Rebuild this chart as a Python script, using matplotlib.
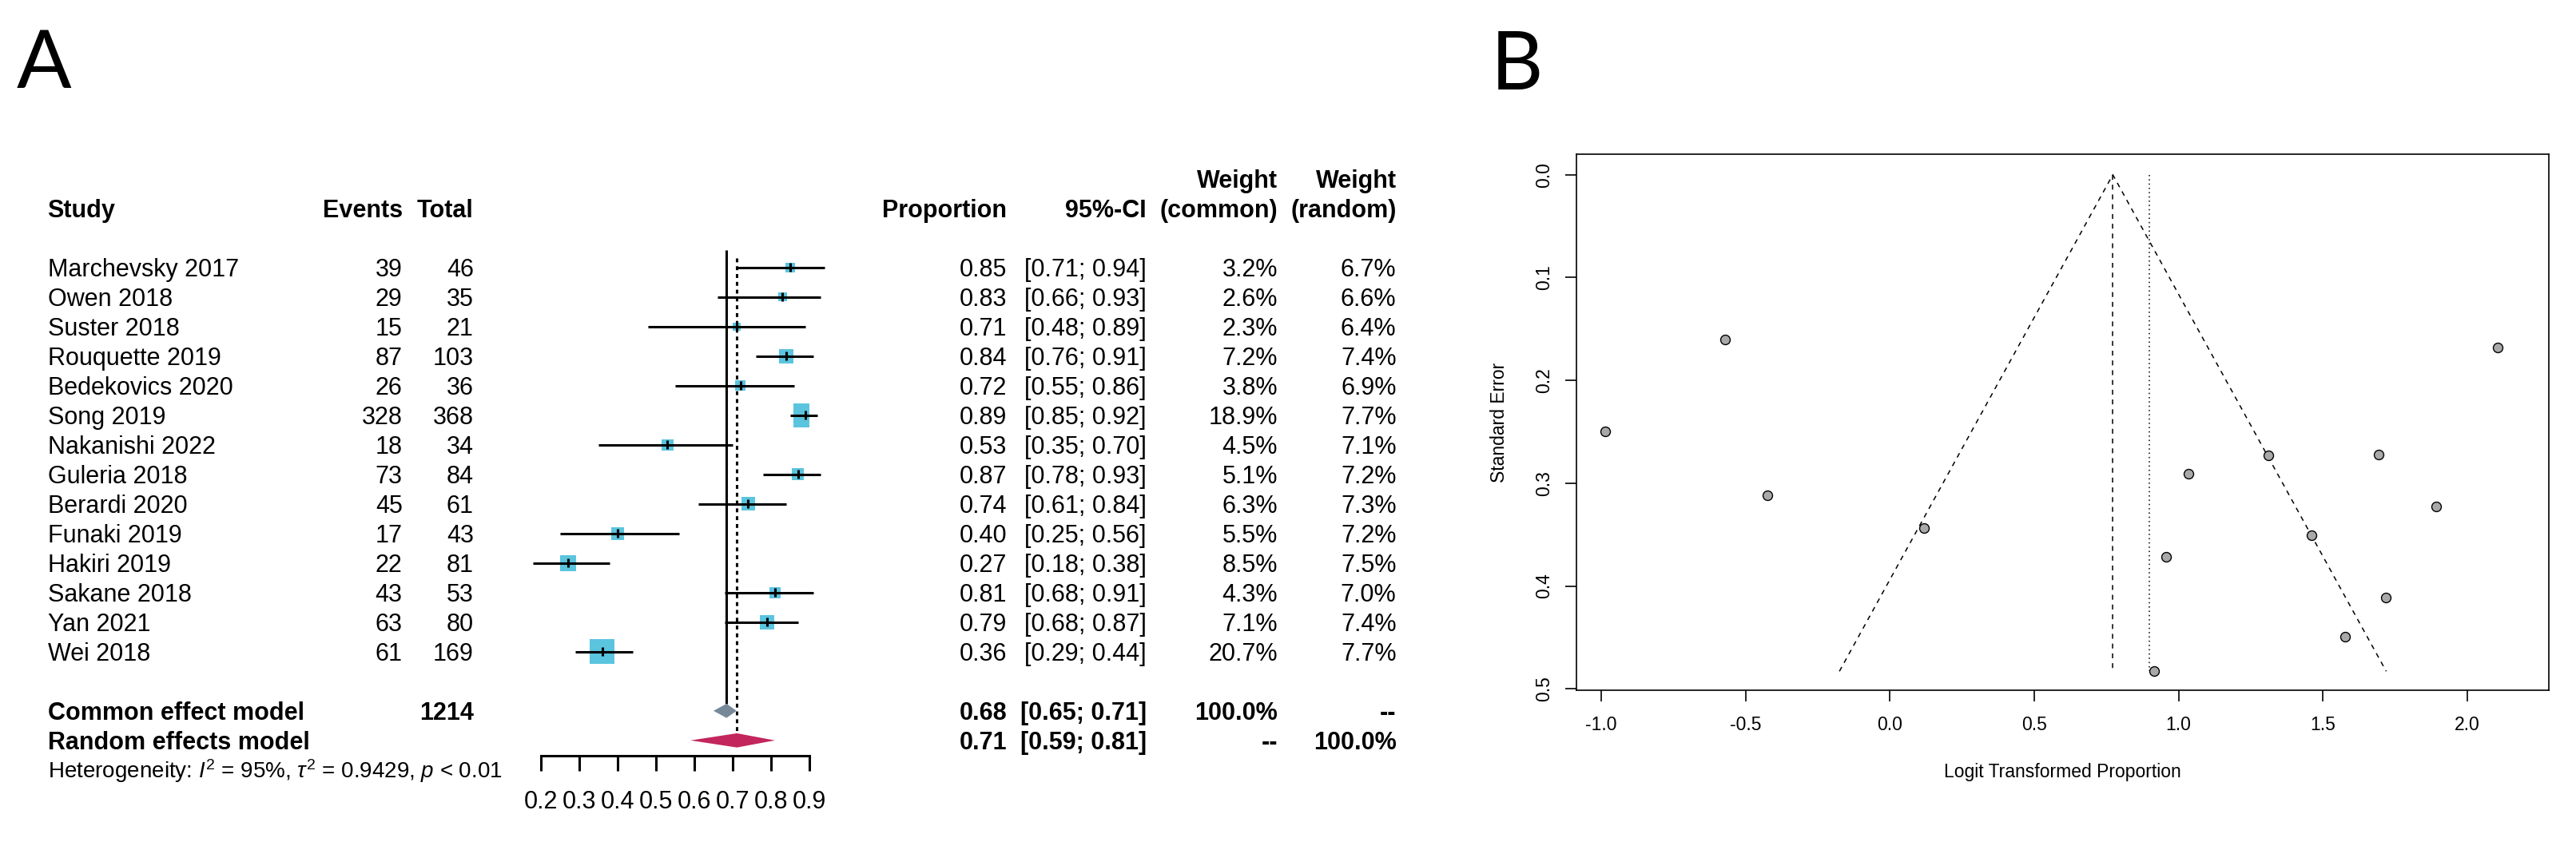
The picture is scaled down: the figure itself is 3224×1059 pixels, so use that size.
import numpy as np
import matplotlib
matplotlib.use("Agg")
import matplotlib.pyplot as plt
from matplotlib.patches import Rectangle, Polygon
from matplotlib.transforms import blended_transform_factory

plt.rcParams['font.family'] = ['Liberation Sans', 'DejaVu Sans']
plt.rcParams['mathtext.fontset'] = 'custom'
plt.rcParams['mathtext.rm'] = 'Liberation Sans'
plt.rcParams['mathtext.it'] = 'Liberation Sans:italic'

### Forest plot data (panel A)
studies = ["Marchevsky 2017", "Owen 2018", "Suster 2018", "Rouquette 2019",
           "Bedekovics 2020", "Song 2019", "Nakanishi 2022", "Guleria 2018",
           "Berardi 2020", "Funaki 2019", "Hakiri 2019", "Sakane 2018",
           "Yan 2021", "Wei 2018"]
events = [39, 29, 15, 87, 26, 328, 18, 73, 45, 17, 22, 43, 63, 61]
totals = [46, 35, 21, 103, 36, 368, 34, 84, 61, 43, 81, 53, 80, 169]
prop = [0.85, 0.83, 0.71, 0.84, 0.72, 0.89, 0.53, 0.87, 0.74, 0.40, 0.27, 0.81, 0.79, 0.36]
ci_lo = [0.71, 0.66, 0.48, 0.76, 0.55, 0.85, 0.35, 0.78, 0.61, 0.25, 0.18, 0.68, 0.68, 0.29]
ci_hi = [0.94, 0.93, 0.89, 0.91, 0.86, 0.92, 0.70, 0.93, 0.84, 0.56, 0.38, 0.91, 0.87, 0.44]
w_common = [3.2, 2.6, 2.3, 7.2, 3.8, 18.9, 4.5, 5.1, 6.3, 5.5, 8.5, 4.3, 7.1, 20.7]
w_random = [6.7, 6.6, 6.4, 7.4, 6.9, 7.7, 7.1, 7.2, 7.3, 7.2, 7.5, 7.0, 7.4, 7.7]

common_est, common_lo, common_hi = 0.684, 0.65, 0.71
random_est, random_lo, random_hi = 0.711, 0.59, 0.81
total_n = 1214
forest_ticks = [0.2, 0.3, 0.4, 0.5, 0.6, 0.7, 0.8, 0.9]

### Funnel plot data (panel B)
logit_prop = [1.718, 1.576, 0.916, 1.693, 0.956, 2.104, 0.118, 1.893, 1.034,
              -0.425, -0.987, 1.459, 1.310, -0.571]
std_err = [0.411, 0.449, 0.483, 0.272, 0.372, 0.168, 0.344, 0.323, 0.291,
           0.312, 0.250, 0.351, 0.273, 0.160]
funnel_center = 0.772
random_logit = 0.898
funnel_se_max = 0.483
funnel_left, funnel_right = -0.175, 1.719

W, H = 3224, 1059
fig = plt.figure(figsize=(W / 100, H / 100), dpi=100)

## Panel A: forest plot
ax = fig.add_axes([677 / W, 1 - 1019.3 / H, 336 / W, 814 / H])
ax.set_xlim(0.2, 0.9)
ax.set_ylim(18.5, -3.5)
for s in ['top', 'left', 'right']:
    ax.spines[s].set_visible(False)
ax.spines['bottom'].set_position(('data', 16.52))
ax.spines['bottom'].set_bounds(0.2, 0.9)
ax.spines['bottom'].set_linewidth(2.2)
ax.set_yticks([])
ax.set_xticks(forest_ticks)
ax.set_xticklabels(["%.1f" % t for t in forest_ticks])
ax.tick_params(axis='x', direction='out', length=13.7, width=2.2, labelsize=22, pad=17)
ax.patch.set_visible(False)

sq_color = '#5bc4de'
rows = np.arange(len(studies))
for i in rows:
    side = 6.8 * np.sqrt(w_common[i])
    wd, ht = side / 480, side / 37
    ax.add_patch(Rectangle((prop[i] - wd / 2, i - ht / 2), wd, ht, color=sq_color, lw=0, zorder=2))
ax.hlines(rows, ci_lo, ci_hi, color='black', lw=2.2, zorder=3, clip_on=False)
ax.vlines(prop, rows - 0.15, rows + 0.15, color='black', lw=2.2, zorder=4)

dh = 0.24
ax.vlines(common_est, -0.58, 15 - dh, color='black', lw=2.2, zorder=1)
ax.vlines(random_est, -0.32, 16 - dh, color='black', lw=2.2, linestyles=(0, (1.6, 1.6)), zorder=1)
ax.add_patch(Polygon([(common_lo, 15), (common_est, 15 - dh), (common_hi, 15), (common_est, 15 + dh)],
                     closed=True, color='#778899', lw=0, zorder=3))
ax.add_patch(Polygon([(random_lo, 16), (random_est, 16 - dh), (random_hi, 16), (random_est, 16 + dh)],
                     closed=True, color='#c2265c', lw=0, zorder=3))

# text columns
tr = blended_transform_factory(fig.transFigure, ax.transData)
fs = 22
off = 0.295  # baseline offset so caps are centred on the row
col_study = 59.6 / W
col_events = 503.7 / W
col_total = 592.8 / W
col_prop = 1260.5 / W
col_ci = 1435 / W
col_wc = 1599 / W
col_wr = 1747.6 / W


def put(x, y, s, ha='left', bold=False, size=fs):
    ax.text(x, y + off, s, transform=tr, ha=ha, va='baseline', fontsize=size,
            fontweight='bold' if bold else 'normal', clip_on=False)


put(col_study, -2, "Study", bold=True)
put(col_events, -2, "Events", ha='right', bold=True)
put(col_total, -2, "Total", ha='right', bold=True)
put(col_prop, -2, "Proportion", ha='right', bold=True)
put(col_ci, -2, "95%-CI", ha='right', bold=True)
put(col_wc, -3, "Weight", ha='right', bold=True)
put(col_wc, -2, "(common)", ha='right', bold=True)
put(col_wr, -3, "Weight", ha='right', bold=True)
put(col_wr, -2, "(random)", ha='right', bold=True)

for i in rows:
    put(col_study, i, studies[i])
    put(col_events, i, str(events[i]), ha='right')
    put(col_total, i, str(totals[i]), ha='right')
    put(col_prop, i, "%.2f" % prop[i], ha='right')
    put(col_ci, i, "[%.2f; %.2f]" % (ci_lo[i], ci_hi[i]), ha='right')
    put(col_wc, i, "%.1f%%" % w_common[i], ha='right')
    put(col_wr, i, "%.1f%%" % w_random[i], ha='right')

put(col_study, 15, "Common effect model", bold=True)
put(col_total, 15, str(total_n), ha='right', bold=True)
put(col_prop, 15, "%.2f" % common_est, ha='right', bold=True)
put(col_ci, 15, "[%.2f; %.2f]" % (common_lo, common_hi), ha='right', bold=True)
put(col_wc, 15, "100.0%", ha='right', bold=True)
put(col_wr, 15, "--", ha='right', bold=True)

put(col_study, 16, "Random effects model", bold=True)
put(col_prop, 16, "%.2f" % random_est, ha='right', bold=True)
put(col_ci, 16, "[%.2f; %.2f]" % (random_lo, random_hi), ha='right', bold=True)
put(col_wc, 16, "--", ha='right', bold=True)
put(col_wr, 16, "100.0%", ha='right', bold=True)

ax.text(col_study, 17 + 0.27, r"Heterogeneity: $I^2$ = 95%, $\tau^2$ = 0.9429, $p$ < 0.01",
        transform=tr, ha='left', va='baseline', fontsize=20, clip_on=False)

## Panel B: funnel plot
bx = fig.add_axes([1973 / W, 1 - 864 / H, 1217 / W, 671 / H])
bx.set_xlim(-1.0858, 2.2823)
bx.set_ylim(0.5014, -0.02)
bx.plot([funnel_left, funnel_center, funnel_right], [funnel_se_max, 0, funnel_se_max],
        color='black', lw=1.1, linestyle=(0, (4, 4)))
bx.plot([funnel_center, funnel_center], [0, funnel_se_max], color='black', lw=1.1, linestyle=(0, (4, 4)))
bx.plot([random_logit, random_logit], [0, funnel_se_max], color='black', lw=1.1, linestyle=(0, (1, 2.5)))
bx.plot(logit_prop, std_err, 'o', ms=8.6, mfc='#a9a9a9', mec='black', mew=1.0, zorder=5)

bx.set_xticks([-1.0, -0.5, 0.0, 0.5, 1.0, 1.5, 2.0])
bx.set_xticklabels(["-1.0", "-0.5", "0.0", "0.5", "1.0", "1.5", "2.0"])
bx.set_yticks([0.0, 0.1, 0.2, 0.3, 0.4, 0.5])
bx.set_yticklabels(["0.0", "0.1", "0.2", "0.3", "0.4", "0.5"], rotation=90, va='center')
bx.tick_params(direction='out', length=9.9, width=1.2, labelsize=16.5)
bx.tick_params(axis='x', pad=13)
bx.tick_params(axis='y', pad=11)
for s in bx.spines.values():
    s.set_linewidth(1.2)
bx.set_xlabel("Logit Transformed Proportion", fontsize=16.5, labelpad=26)
bx.set_ylabel("Standard Error", fontsize=16.5, labelpad=24)

## Panel letters
fig.text(21 / W, 1 - 36 / H, "A", fontsize=73, family='Lato', ha='left', va='top')
fig.text(1866 / W, 1 - 37.7 / H, "B", fontsize=73, family='Lato', ha='left', va='top')

fig.savefig("out.png", dpi=100)
